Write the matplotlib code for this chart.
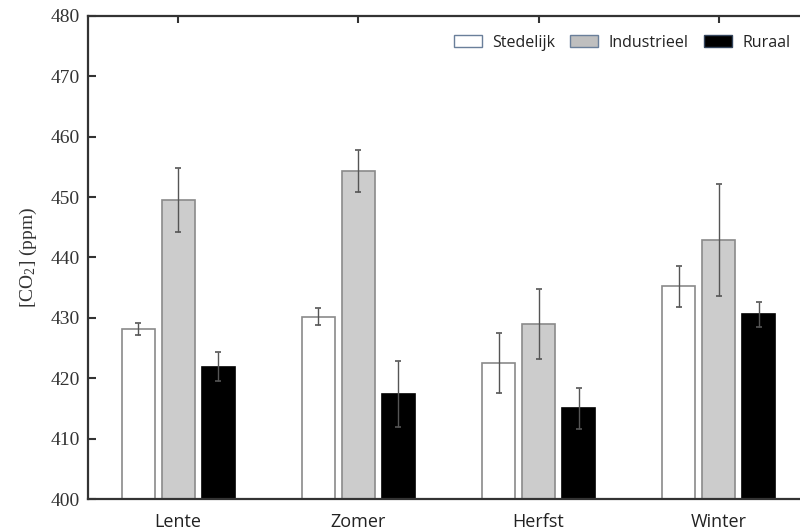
import matplotlib
matplotlib.use("Agg")
import matplotlib.pyplot as plt
import numpy as np
from matplotlib.patches import Patch

seasons = ["Lente", "Zomer", "Herfst", "Winter"]
series = ["Stedelijk", "Industrieel", "Ruraal"]
stedelijk = [428.1, 430.2, 422.5, 435.2]
stedelijk_err = [1.0, 1.4, 5.0, 3.4]
industrieel = [449.6, 454.3, 429.0, 442.9]
industrieel_err = [5.3, 3.5, 5.8, 9.3]
ruraal = [421.9, 417.4, 415.0, 430.6]
ruraal_err = [2.4, 5.4, 3.4, 2.1]
yticks = [400, 410, 420, 430, 440, 450, 460, 470, 480]

plt.rcParams["mathtext.fontset"] = "custom"
plt.rcParams["mathtext.rm"] = "Liberation Serif"
plt.rcParams["mathtext.it"] = "Liberation Serif:italic"

fig = plt.figure(figsize=(8, 5.3), dpi=100)
ax = fig.add_axes([88/800, 1-499/530, 721/800, (499-16)/530])

x = np.arange(1, len(seasons) + 1)
w = 0.183
off = 0.222
faces = ["white", "#cccccc", "black"]
edges = ["#8a8a8a", "#8a8a8a", "black"]
vals = [stedelijk, industrieel, ruraal]
errs = [stedelijk_err, industrieel_err, ruraal_err]
for i, (v, e) in enumerate(zip(vals, errs)):
    xs = x + (i - 1) * off
    ax.bar(xs, np.array(v) - 400, bottom=400, width=w, color=faces[i],
           edgecolor=edges[i], linewidth=1.2, zorder=2)
    ax.errorbar(xs, v, yerr=e, fmt="none", ecolor="#555555", elinewidth=1.0,
                capsize=2.5, capthick=1.2, zorder=3)

ax.set_xlim(0.5, 4.5)
ax.set_ylim(400, 480)
ax.set_yticks(yticks)
ax.set_yticklabels([str(t) for t in yticks], family="Liberation Serif", fontsize=14, color="#333333")
ax.set_xticks(x)
ax.set_xticklabels([])
ax.tick_params(axis="y", direction="in", length=6, width=1.5, color="#333333", pad=6)
ax.tick_params(axis="x", direction="in", length=5, width=1.5, color="#333333", top=True)
for s in ["left", "bottom", "top"]:
    ax.spines[s].set_linewidth(1.6)
    ax.spines[s].set_color("#333333")
ax.spines["right"].set_visible(False)

for xi, lab in zip(x, seasons):
    ax.text(xi, -0.047, lab, transform=ax.get_xaxis_transform(), ha="center", va="center",
            family="Open Sans", fontsize=13, color="#222222")

ax.set_ylabel("[CO$_2$] (ppm)", family="Liberation Serif", fontsize=14, color="#333333", labelpad=8)

handles = [Patch(facecolor=faces[i] if i != 1 else "#bfbfbf", edgecolor="#6a7f9a" if i < 2 else "#34455c",
                 linewidth=1.0, label=series[i]) for i in range(3)]
leg = fig.legend(handles=handles, loc="center right", bbox_to_anchor=(1.002, 0.919), ncol=3,
                 frameon=False, prop={"family": "Open Sans", "size": 11.5},
                 handlelength=1.75, handleheight=0.8, columnspacing=0.95, handletextpad=0.65,
                 borderpad=0.2)
for t in leg.get_texts():
    t.set_color("#222222")

fig.savefig("out.png", dpi=100)
